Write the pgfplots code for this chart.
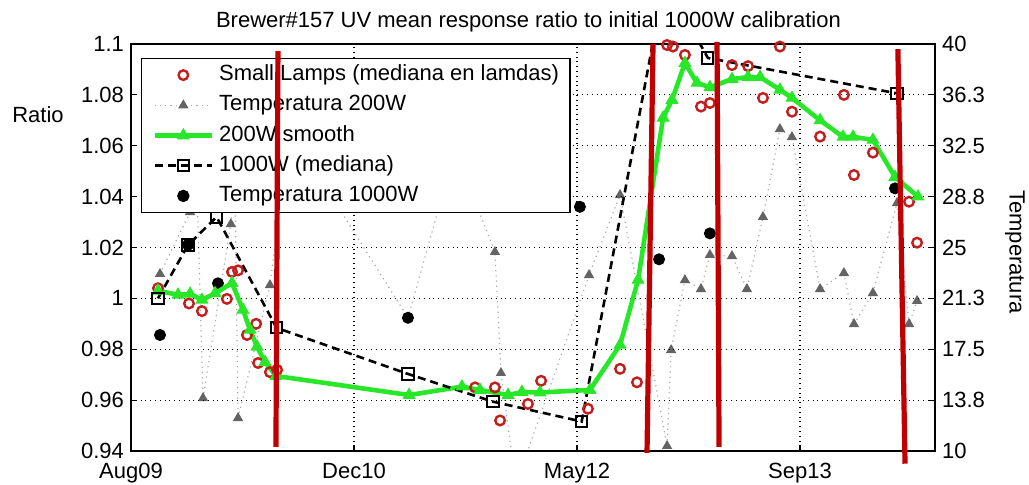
\documentclass[border=0pt]{standalone}
\usepackage{fontspec}
\setmainfont{Liberation Sans}
\setsansfont{Liberation Sans}
\usepackage{pgfplots}
\pgfplotsset{compat=1.18}
\definecolor{lampred}{RGB}{195,30,30}
\definecolor{smoothgreen}{RGB}{40,230,40}
\definecolor{redline}{RGB}{192,0,0}
\definecolor{tempgray}{RGB}{100,100,100}
\pgfplotsset{
  common/.style={width=402pt, height=203.5pt, scale only axis,
    xmin=0, xmax=3.6054,
    /pgf/number format/assume math mode=true,
    tick align=inside, major tick length=3pt,
    axis line style={line width=0.6pt, black},
    every tick/.style={black, line width=0.6pt}},
}
\begin{document}
\begin{tikzpicture}[font=\fontsize{11}{13}\selectfont]
\useasboundingbox (-65.5pt,-16.5pt) rectangle (449pt,225.5pt);
% ---------------- temperature axis (right)
\begin{axis}[common, ymin=10, ymax=40, hide x axis, axis y line*=right,
  ytick={10,13.75,17.5,21.25,25,28.75,32.5,36.25,40},
  yticklabels={10,13.8,17.5,21.3,25,28.8,32.5,36.3,40}]
\addplot[tempgray!55, dotted, line width=0.6pt, mark=triangle*, mark size=2.4pt,
  mark options={solid, fill=tempgray, draw=tempgray}] coordinates {
(0.130,23.05) (0.265,27.61) (0.291,32.2) (0.323,13.9) (0.448,26.73) (0.466,30.7)
(0.480,12.43) (0.623,22.23) (0.713,33.66) (1.242,19.82) (1.453,32.18) (1.632,24.67)
(1.659,15.75) (1.726,7.5) (2.054,22.97) (2.193,28.87) (2.404,10.37) (2.422,17.44)
(2.484,22.60) (2.556,21.94) (2.596,24.45) (2.695,24.37) (2.762,21.94) (2.834,27.25)
(2.910,33.73) (2.964,33.14) (3.090,21.94) (3.197,23.12) (3.242,19.36) (3.327,21.64)
(3.435,28.28) (3.489,19.36) (3.525,21.06)};
\addplot[only marks, mark=*, mark size=2.8pt, black] coordinates {
(0.130,18.55) (0.256,25.2) (0.390,22.36) (1.242,19.82) (2.013,28.0) (2.368,24.13)
(2.596,26.04) (3.426,29.36)};
\end{axis}
% ---------------- ratio axis (left)
\begin{axis}[common, ymin=0.94, ymax=1.1, xtick pos=left, ytick pos=left,
  xtick={0,1,2,3}, xticklabels={Aug09,Dec10,May12,Sep13},
  xticklabel style={yshift=-2.5pt},
  ytick={0.94,0.96,0.98,1,1.02,1.04,1.06,1.08,1.1},
  yticklabels={0.94,0.96,0.98,1,1.02,1.04,1.06,1.08,1.1},
  grid=major, major grid style={dotted, black, line width=0.6pt},
  legend image code/.code={\draw[mark repeat=2,mark phase=2,#1] plot coordinates {(0cm,0cm) (0.5cm,0cm) (1cm,0cm)};},
  legend cell align=left,
  legend style={at={(axis description cs:0.01244,0.9656)}, anchor=north west,
    draw=black, line width=0.6pt, fill=white, inner xsep=5.5pt, inner ysep=3pt,
    row sep=4.6pt, column sep=2.5pt,
    nodes={inner sep=0pt, text height=8pt, text depth=2.5pt}}]
\addplot[only marks, mark=o, mark size=2.4pt, lampred, line width=1.2pt] coordinates {
(0.121,1.004) (0.260,0.998) (0.318,0.995) (0.430,0.9998) (0.453,1.0104) (0.480,1.011)
(0.520,0.9856) (0.561,0.990) (0.570,0.9746) (0.623,0.971) (0.655,0.9719)
(1.543,0.965) (1.632,0.965) (1.655,0.952) (1.780,0.9585) (1.839,0.9676)
(2.049,0.9566) (2.193,0.9723) (2.269,0.967) (2.404,1.0996) (2.430,1.099)
(2.484,1.0957) (2.556,1.0754) (2.596,1.0768) (2.695,1.0917) (2.767,1.0913)
(2.834,1.0788) (2.910,1.099) (2.964,1.0734) (3.090,1.0636) (3.197,1.080)
(3.242,1.0485) (3.327,1.0573) (3.489,1.038) (3.525,1.0219)};
\addlegendentry{Small Lamps (mediana en lamdas)}
\addlegendimage{tempgray!55, dotted, line width=0.6pt, mark=triangle*, mark size=2.4pt,
  mark options={solid, fill=tempgray, draw=tempgray}}
\addlegendentry{Temperatura 200W}
\addplot[smoothgreen, line width=2.3pt, mark=triangle*, mark size=3.3pt,
  mark options={fill=smoothgreen, draw=smoothgreen, line width=0.5pt}] coordinates {
(0.121,1.003) (0.211,1.0014) (0.265,1.0018) (0.318,0.9994) (0.377,1.002) (0.453,1.006)
(0.502,0.9955) (0.534,0.9876) (0.565,0.981) (0.601,0.975) (0.650,0.9695)
(1.247,0.962) (1.484,0.9653) (1.565,0.964) (1.691,0.962) (1.753,0.9632) (1.834,0.963)
(2.058,0.964) (2.193,0.9817) (2.274,1.0073) (2.386,1.071) (2.426,1.078) (2.484,1.0925)
(2.538,1.0847) (2.596,1.083) (2.695,1.0862) (2.767,1.087) (2.821,1.087) (2.910,1.082)
(2.964,1.0788) (3.090,1.070) (3.193,1.0635) (3.238,1.0635) (3.327,1.0623)
(3.426,1.0477) (3.529,1.040)};
\addlegendentry{200W smooth}
\addplot[black, line width=1.3pt, dash pattern=on 4pt off 2.5pt, mark=square, mark size=2.8pt,
  mark options={solid, line width=1pt}] coordinates {
(0.121,1.0) (0.256,1.021) (0.384,1.032) (0.653,0.9884) (1.242,0.9703) (1.623,0.9594)
(2.021,0.9516) (2.393,1.125) (2.587,1.0945) (3.435,1.0806)};
\addlegendentry{1000W (mediana)}
\addlegendimage{only marks, mark=*, mark size=2.8pt, black}
\addlegendentry{Temperatura 1000W}
\end{axis}
% ---------------- annotations
\begin{axis}[common, ymin=0.94, ymax=1.1, hide axis, clip=false]
\addplot[redline, line width=2.6pt] coordinates {(0.659,1.0972) (0.650,0.9416)};
\addplot[redline, line width=2.6pt] coordinates {(2.341,1.1) (2.314,0.9393)};
\addplot[redline, line width=2.6pt] coordinates {(2.628,1.1008) (2.637,0.9416)};
\addplot[redline, line width=2.6pt] coordinates {(3.439,1.098) (3.471,0.935)};
\node[anchor=base, yshift=8.5pt] at (rel axis cs:0.4944,1) {Brewer\#157 UV mean response ratio to initial 1000W calibration};
\node at (rel axis cs:-0.1157,0.826) {Ratio};
\node[rotate=-90] at (rel axis cs:1.0995,0.489) {Temperatura};
\end{axis}
\end{tikzpicture}
\end{document}
